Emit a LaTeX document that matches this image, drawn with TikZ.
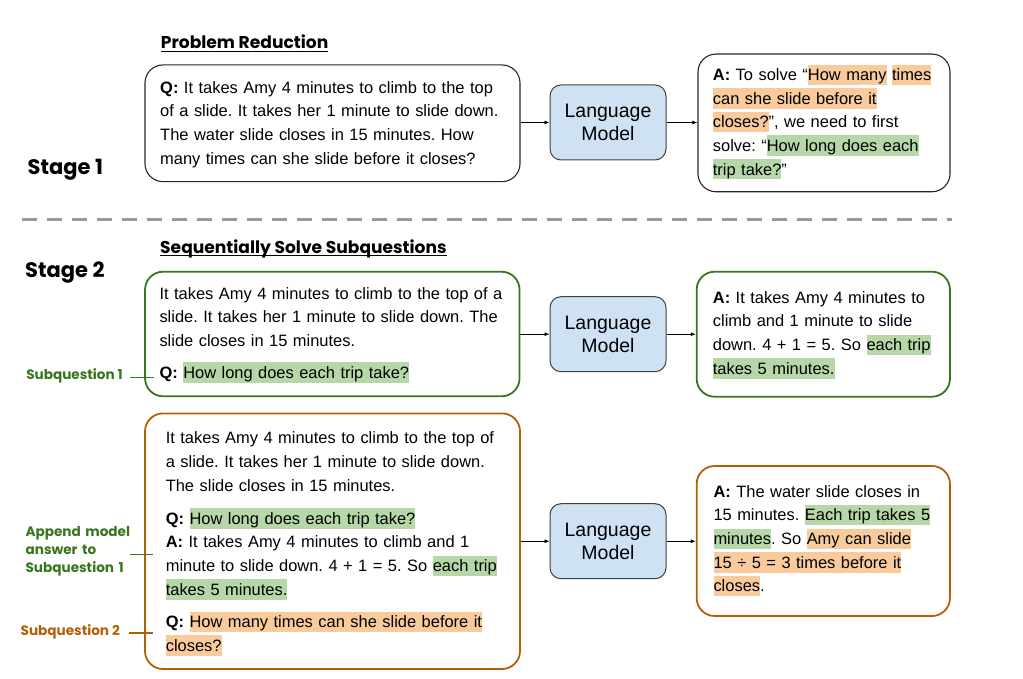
\documentclass[tikz,border=0pt]{standalone}
\usepackage{fontspec}
\setmainfont{Liberation Sans}
\newfontfamily\headfont{Poppins}
\usetikzlibrary{arrows.meta}
\definecolor{hlg}{HTML}{B6D7A8}
\definecolor{hlo}{HTML}{F9CB9C}
\definecolor{dgreen}{HTML}{38761D}
\definecolor{dorange}{HTML}{B45F06}
\definecolor{lmblue}{HTML}{CFE2F3}
\definecolor{dashgray}{HTML}{999999}
\frenchspacing
\newcommand\hlstrut{\rule[-4.4pt]{0pt}{20.4pt}}
\newcommand\hlg[1]{{\setlength{\fboxsep}{0pt}\colorbox{hlg}{\hlstrut#1}}}
\newcommand\hlo[1]{{\setlength{\fboxsep}{0pt}\colorbox{hlo}{\hlstrut#1}}}
\tikzset{
  tbox/.style={draw=black!85, rounded corners=18pt, line width=1.1pt, inner sep=0pt},
  gbox/.style={tbox, draw=dgreen, line width=1.8pt},
  obox/.style={tbox, draw=dorange, line width=1.8pt},
  lm/.style={draw=black!75, fill=lmblue, rounded corners=11pt, line width=1pt,
    minimum width=116pt, minimum height=75pt, align=center, inner sep=0pt,
    font=\fontsize{19.5}{23.4}\selectfont},
  txt/.style={inner sep=0pt, text width=370pt, align=left, anchor=base west,
    font=\frenchspacing\fontsize{16.45}{23.6}\selectfont},
  arr/.style={-{Latex[length=5pt,width=4pt]}, line width=0.8pt},
  head/.style={inner sep=0pt, anchor=base west, font=\headfont\bfseries\fontsize{17.1}{20}\selectfont},
  stage/.style={inner sep=0pt, anchor=base west, font=\headfont\bfseries\fontsize{21}{25}\selectfont},
  lab/.style={inner sep=0pt, font=\headfont\bfseries\fontsize{13.6}{17.7}\selectfont},
  uline/.style={line width=1.4pt},
  gl/.style={dgreen, line width=1.5pt},
  ol/.style={dorange, line width=1.5pt}
}
\begin{document}
\begin{tikzpicture}[x=1pt,y=-1pt]
\useasboundingbox (0,0) rectangle (1023,679);

% headings
\node[head] (h1) at (160.7,48.3) {Problem Reduction};
\draw[uline] ([yshift=-3.4pt]h1.base west) -- ([yshift=-3.4pt]h1.base east);
\node[head] (h2) at (160,253.3) {Sequentially Solve Subquestions};
\draw[uline] ([yshift=-2.5pt]h2.base west) -- ([yshift=-2.5pt]h2.base east);
\node[stage] (s1) at (27.5,174.5) {Stage 1};
\node[stage] (s2) at (25,277.3) {Stage 2};

% separator
\draw[dashgray, line width=3pt, dash pattern=on 15pt off 10pt] (21.7,219.3) -- (952,219.3);

% stage 1
\node[tbox, minimum width=375pt, minimum height=116.7pt] (b1) at (332.5,123.3) {};
\node[lm] (lm1) at (608,122.5) {Language\\Model};
\node[tbox, minimum width=252pt, minimum height=137.7pt] (a1) at (824,122.9) {};
\node[txt] (t1) at (160,93.3) {\textbf{Q:} It takes Amy 4 minutes to climb to the top\\
of a slide. It takes her 1 minute to slide down.\\
The water slide closes in 15 minutes. How\\
many times can she slide before it closes?};
\node[txt] (ta1) at (712.7,80.7) {\textbf{A:} To solve “\hlo{How many} \hlo{times}\\
\hlo{can she slide before it}\\
\hlo{closes?}”, we need to first\\
solve: “\hlg{How long does each}\\
\hlg{trip take?}”};
\draw[arr] (b1.east |- lm1.west) -- (lm1.west);
\draw[arr] (lm1.east) -- (a1.west |- lm1.east);

% stage 2, subquestion 1
\node[gbox, minimum width=374.5pt, minimum height=124.6pt] (g1) at (332.3,334) {};
\node[lm] (lm2) at (608,334.2) {Language\\Model};
\node[gbox, minimum width=253.3pt, minimum height=125pt] (ga) at (823.3,334.2) {};
\node[txt] (tg1) at (159.3,299.3) {It takes Amy 4 minutes to climb to the top of a\\
slide. It takes her 1 minute to slide down. The\\
slide closes in 15 minutes.\\[8.1pt]
\textbf{Q:} \hlg{How long does each trip take?}};
\node[txt] (tga) at (712.7,303.3) {\textbf{A:} It takes Amy 4 minutes to\\
climb and 1 minute to slide\\
down. 4 + 1 = 5. So \hlg{each trip}\\
\hlg{takes 5 minutes.}};
\draw[arr] (g1.east |- lm2.west) -- (lm2.west);
\draw[arr] (lm2.east) -- (ga.west |- lm2.east);

% stage 2, subquestion 2
\node[obox, minimum width=375pt, minimum height=255.6pt] (o1) at (332.5,541.2) {};
\node[lm] (lm3) at (608,541.2) {Language\\Model};
\node[obox, minimum width=253.3pt, minimum height=150pt] (oa) at (823.3,541) {};
\node[txt] (to1) at (165.6,443.8) {It takes Amy 4 minutes to climb to the top of\\
a slide. It takes her 1 minute to slide down.\\
The slide closes in 15 minutes.\\[9.7pt]
\textbf{Q:} \hlg{How long does each trip take?}\\
\textbf{A:} It takes Amy 4 minutes to climb and 1\\
minute to slide down. 4 + 1 = 5. So \hlg{each trip}\\
\hlg{takes 5 minutes.}\\[9.1pt]
\textbf{Q:} \hlo{How many times can she slide before it}\\
\hlo{closes?}};
\node[txt] (toa) at (713.3,497.3) {\textbf{A:} The water slide closes in\\
15 minutes. \hlg{Each trip takes 5}\\
\hlg{minutes}. So \hlo{Amy can slide}\\
\hlo{15 ÷ 5 = 3 times before it}\\
\hlo{closes}.};
\draw[arr] (o1.east |- lm3.west) -- (lm3.west);
\draw[arr] (lm3.east) -- (oa.west |- lm3.east);

% side labels
\node[lab, text=dgreen, anchor=base east] (sq1) at (123,379) {Subquestion 1};
\draw[gl] ([xshift=7pt,yshift=-2pt]sq1.east) -- ([xshift=10pt,yshift=-2pt]sq1.east -| g1.west);
\node[lab, text=dgreen, anchor=base west, text width=120pt, align=left] (am) at (25.4,536.8) {Append model\\answer to\\Subquestion 1};
\draw[gl] ([xshift=-15.4pt,yshift=-3pt]am.east) -- ([xshift=9pt,yshift=-3pt]am.east -| o1.west);
\node[lab, text=dorange, anchor=base east] (sq2) at (120,635.8) {Subquestion 2};
\draw[ol] ([xshift=9pt,yshift=-1pt]sq2.east) -- ([xshift=9pt,yshift=-1pt]sq2.east -| o1.west);
\end{tikzpicture}
\end{document}
